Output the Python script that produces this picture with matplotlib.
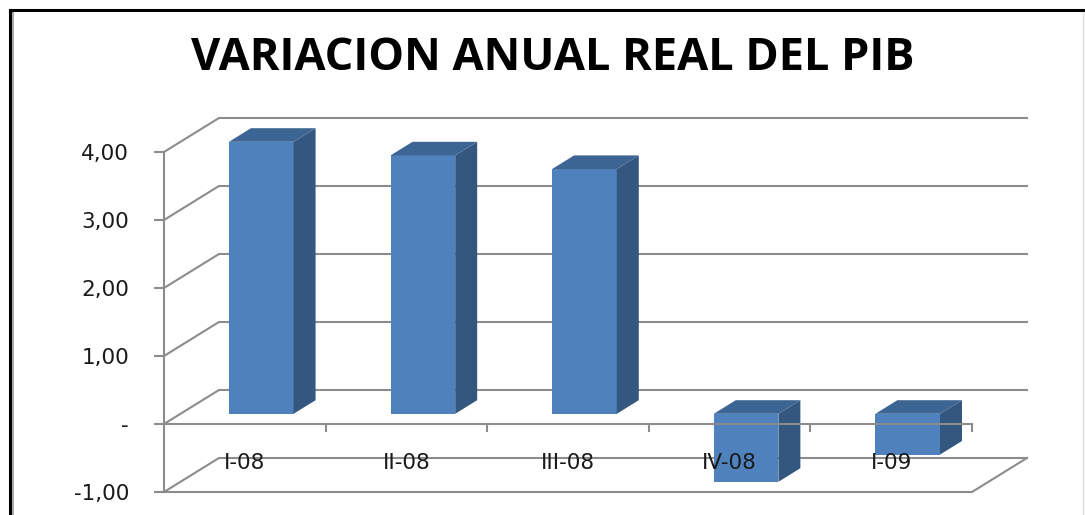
import numpy as np
import matplotlib
matplotlib.use("Agg")
import matplotlib.pyplot as plt
from matplotlib.lines import Line2D

# data
categories = ["I-08", "II-08", "III-08", "IV-08", "I-09"]
values = [4.0, 3.8, 3.6, -1.0, -0.6]
y_ticks = [-1, 0, 1, 2, 3, 4]
y_labels = ["-1,00", "-", "1,00", "2,00", "3,00", "4,00"]

W, H = 1085, 515
DX, DY = 0.34, 0.5          # oblique offset of the back wall (x in categories, y in values)
grid_col = "#8c8c8c"
front_col = "#4f81bd"
side_col = "#34577f"
top_col = "#3d6594"


def proj(x, v, d):
    return x + d * DX, v + d * DY


fig = plt.figure(figsize=(W / 100, H / 100), dpi=100)
ax = fig.add_axes([164 / W, 9.4 / H, 888.8 / W, 401.2 / H])
ax.set_xlim(0, 5.5)
ax.set_ylim(-1.2, 4.7)
n = len(categories)
lw = 1.5

# walls and gridlines
for v in y_ticks:
    bx, by = proj(0, v, 1)
    ax.plot([0, bx, n + DX], [v, by, by], color=grid_col, lw=lw, zorder=1)
# floor front + right edge
ax.plot([0, n, n + DX], [-1, -1, -1 + DY], color=grid_col, lw=lw, zorder=1)

# bars
bw = 0.4
for i, val in enumerate(values):
    x0, x1 = i + 0.5 - bw / 2, i + 0.5 + bw / 2
    lo, hi = min(0, val), max(0, val)
    d0, d1 = 0.3, 0.7
    # front face
    p = [proj(x0, lo, d0), proj(x1, lo, d0), proj(x1, hi, d0), proj(x0, hi, d0)]
    ax.fill(*zip(*p), color=front_col, zorder=3, lw=0)
    # side face
    p = [proj(x1, lo, d0), proj(x1, lo, d1), proj(x1, hi, d1), proj(x1, hi, d0)]
    ax.fill(*zip(*p), color=side_col, zorder=3, lw=0)
    # top face
    p = [proj(x0, hi, d0), proj(x1, hi, d0), proj(x1, hi, d1), proj(x0, hi, d1)]
    ax.fill(*zip(*p), color=top_col, zorder=3, lw=0)

# front zero axis with category ticks
ax.plot([0, n], [0, 0], color=grid_col, lw=lw, zorder=4)
for i in range(1, n + 1):
    ax.plot([i, i], [0, -0.1], color=grid_col, lw=lw, zorder=4)

for i, c in enumerate(categories):
    ax.text(i + 0.5, -0.57, c, ha="center", va="center", fontsize=15.5,
            color="#1a1a1a", zorder=5)

ax.set_xticks([])
ax.set_yticks(y_ticks)
ax.set_yticklabels(y_labels, fontsize=15.5, color="#1a1a1a")
ax.tick_params(axis="y", length=7.2, width=lw, color=grid_col, pad=18)
for s in ["top", "right", "bottom"]:
    ax.spines[s].set_visible(False)
ax.spines["left"].set_bounds(-1, 4)
ax.spines["left"].set_color(grid_col)
ax.spines["left"].set_linewidth(lw)
ax.patch.set_alpha(0)

fig.text(553 / W, 1 - 59 / H, "VARIACION ANUAL REAL DEL PIB", ha="center", va="center",
         fontsize=32.5, fontweight="bold", family="Open Sans")

# chart border
fig.add_artist(Line2D([10 / W, 10 / W], [0, 1 - 10 / H], color="black", lw=2.2))
fig.add_artist(Line2D([12.5 / W, 12.5 / W], [0, 1 - 12 / H], color="#9a9a9a", lw=1.2))
fig.add_artist(Line2D([10 / W, 1], [1 - 10 / H, 1 - 10 / H], color="black", lw=2.2))
fig.add_artist(Line2D([1083 / W, 1083 / W], [0, 1 - 12 / H], color="#dddddd", lw=1))

fig.savefig("out.png", dpi=100)
